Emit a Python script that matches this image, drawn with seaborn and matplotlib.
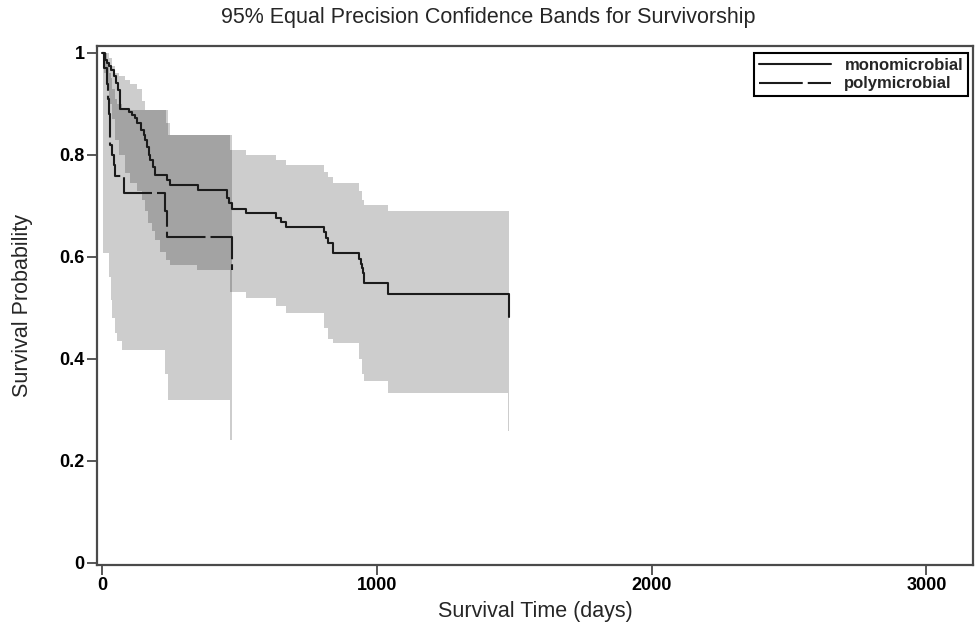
import numpy as np
import pandas as pd
import matplotlib
matplotlib.use("Agg")
import matplotlib.pyplot as plt
import seaborn as sns

# ---------------- data ----------------
series_labels = ["monomicrobial", "polymicrobial"]

mono_time = [0, 8, 18, 25, 32, 42, 50, 58, 65, 95, 108, 118, 126, 140, 150, 156, 162, 168, 174, 185,
             192, 234, 246, 349, 452, 460, 470, 524, 633, 650, 669, 808, 815, 823, 838, 935, 940, 944,
             948, 953, 1038, 1482]
mono_surv = [1.0, 0.987, 0.980, 0.974, 0.967, 0.954, 0.941, 0.927, 0.891, 0.885, 0.879, 0.872, 0.862,
             0.849, 0.839, 0.829, 0.815, 0.800, 0.790, 0.777, 0.761, 0.751, 0.741, 0.731, 0.715, 0.705,
             0.695, 0.686, 0.676, 0.668, 0.659, 0.649, 0.638, 0.627, 0.607, 0.597, 0.587, 0.578, 0.568,
             0.548, 0.527, 0.483]

poly_time = [0, 5, 17, 20, 23, 26, 29, 35, 41, 47, 77, 80, 228, 234, 470]
poly_surv = [1.0, 0.970, 0.940, 0.910, 0.880, 0.850, 0.820, 0.800, 0.780, 0.758, 0.742, 0.725, 0.690,
             0.640, 0.575]

mono_band_time = [5, 15, 25, 35, 47, 60, 83, 100, 126, 145, 156, 165, 180, 192, 210, 230, 246, 343,
                  464, 524, 633, 669, 808, 823, 838, 935, 944, 953, 1038, 1478, 1482]
mono_band_lower = [0.96, 0.93, 0.90, 0.87, 0.83, 0.80, 0.765, 0.745, 0.73, 0.712, 0.69, 0.666, 0.65,
                   0.633, 0.61, 0.595, 0.584, 0.575, 0.532, 0.519, 0.503, 0.490, 0.46, 0.44, 0.431,
                   0.40, 0.37, 0.356, 0.333, 0.258, 0.258]
mono_band_upper = [1.0, 1.0, 0.99, 0.975, 0.96, 0.955, 0.947, 0.94, 0.93, 0.905, 0.888, 0.888, 0.888,
                   0.888, 0.888, 0.862, 0.839, 0.839, 0.81, 0.80, 0.79, 0.78, 0.767, 0.757, 0.746,
                   0.73, 0.712, 0.702, 0.69, 0.69, 0.69]

poly_band_time = [3, 18, 23, 30, 35, 45, 53, 70, 83, 228, 240, 464, 470]
poly_band_lower = [0.607, 0.607, 0.56, 0.516, 0.48, 0.45, 0.435, 0.418, 0.418, 0.37, 0.32, 0.241, 0.241]
poly_band_upper = [1.0, 0.98, 0.96, 0.95, 0.93, 0.91, 0.90, 0.888, 0.888, 0.888, 0.839, 0.839, 0.839]

x_ticks = [0, 1000, 2000, 3000]
y_ticks = [0, 0.2, 0.4, 0.6, 0.8, 1.0]
y_tick_labels = ["0", "0.2", "0.4", "0.6", "0.8", "1"]

# ---------------- style ----------------
sns.set_style("white")
plt.rcParams["font.family"] = ["Liberation Sans", "DejaVu Sans"]

W, H = 976, 628
fig = plt.figure(figsize=(W / 100, H / 100), dpi=100)
ax_l, ax_r, ax_t, ax_b = 97, 973, 46, 565
ax = fig.add_axes([ax_l / W, 1 - ax_b / H, (ax_r - ax_l) / W, (ax_b - ax_t) / H])

LIGHT = "#cdcdcd"
DARK = "#a3a3a3"
LINE = "#1b1b1b"
AXC = "#4a4a4a"

# confidence bands
ax.fill_between(mono_band_time, mono_band_lower, mono_band_upper, step="post", color=LIGHT, lw=0)
ax.fill_between(poly_band_time, poly_band_lower, poly_band_upper, step="post", color=LIGHT, lw=0)


def step_at(t, v, x):
    idx = np.searchsorted(np.asarray(t), x, side="right") - 1
    idx = np.clip(idx, 0, len(v) - 1)
    return np.asarray(v)[idx]


start = max(mono_band_time[0], poly_band_time[0])
end = min(mono_band_time[-1], poly_band_time[-1])
grid = np.unique([t for t in mono_band_time + poly_band_time if start <= t <= end] + [start, end])
ov_lo = np.maximum(step_at(mono_band_time, mono_band_lower, grid),
                   step_at(poly_band_time, poly_band_lower, grid))
ov_hi = np.minimum(step_at(mono_band_time, mono_band_upper, grid),
                   step_at(poly_band_time, poly_band_upper, grid))
ax.fill_between(grid, ov_lo, np.maximum(ov_hi, ov_lo), step="post", color=DARK, lw=0)

# survival curves
mono_df = pd.DataFrame({"time": mono_time, "surv": mono_surv})
poly_df = pd.DataFrame({"time": poly_time, "surv": poly_surv})
sns.lineplot(data=mono_df, x="time", y="surv", ax=ax, color=LINE, lw=1.5,
             drawstyle="steps-post", estimator=None, sort=False, label=series_labels[0])
sns.lineplot(data=poly_df, x="time", y="surv", ax=ax, color=LINE, lw=1.5,
             drawstyle="steps-post", estimator=None, sort=False, label=series_labels[1],
             linestyle=(0, (21, 2.4)))

# axes
ax.set_xlim(-20, 3170)
ax.set_ylim(-0.004, 1.0137)
ax.set_xticks(x_ticks)
ax.set_xticklabels([str(v) for v in x_ticks])
ax.set_yticks(y_ticks)
ax.set_yticklabels(y_tick_labels)
for s in ax.spines.values():
    s.set_visible(True)
    s.set_color(AXC)
    s.set_linewidth(1.6)
ax.tick_params(axis="both", which="major", bottom=True, left=True, direction="out",
               length=7, width=1.3, color=AXC, labelsize=13, pad=2, labelcolor="black")
for lab in ax.get_xticklabels() + ax.get_yticklabels():
    lab.set_fontweight("bold")

ax.set_xlabel("Survival Time (days)", fontsize=15.5, va="top")
ax.set_ylabel("Survival Probability", fontsize=15.5)
ax.xaxis.set_label_coords(0.5, -(601 - ax_b) / (ax_b - ax_t))
ax.yaxis.set_label_coords(-(ax_l - 33) / (ax_r - ax_l), 0.5)

fig.suptitle("95% Equal Precision Confidence Bands for Survivorship", fontsize=15.5,
             x=0.5, y=1 - 18 / H, va="center")

handles, labels = ax.get_legend_handles_labels()
leg = ax.legend(handles, labels, loc="upper right", bbox_to_anchor=(968 / W, 1 - 53 / H),
                bbox_transform=fig.transFigure, borderaxespad=0, frameon=True, fancybox=False,
                edgecolor="black", framealpha=1, handlelength=4.3, handletextpad=0.8,
                borderpad=0.3, labelspacing=0.2, prop={"size": 12, "weight": "bold"})
leg.get_frame().set_linewidth(1.5)

fig.savefig("out.png", dpi=100)
